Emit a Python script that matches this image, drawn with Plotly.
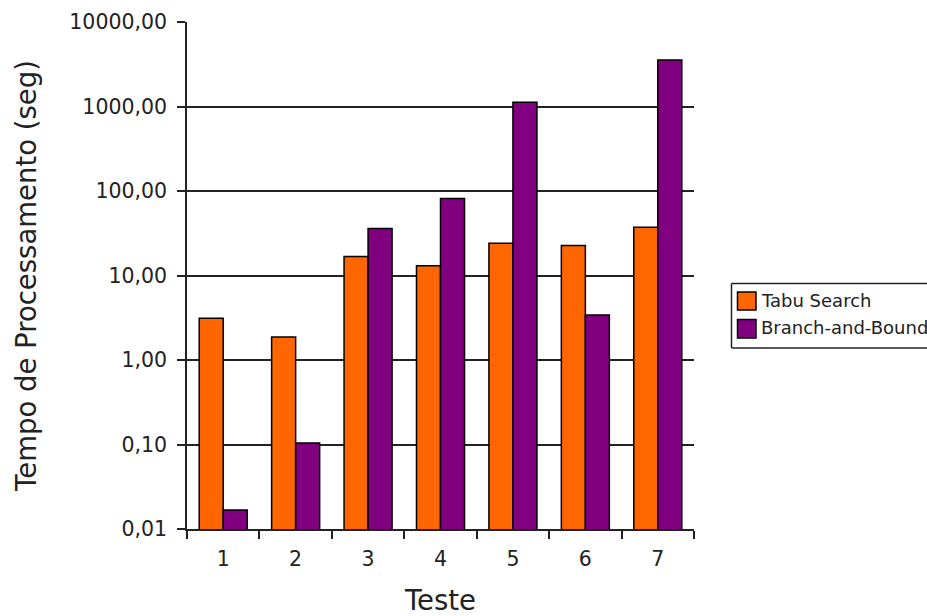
import plotly.graph_objects as go

categories = ["1", "2", "3", "4", "5", "6", "7"]
tabu_search = [3.12, 1.87, 16.8, 13.0, 24.1, 22.7, 37.3]
branch_and_bound = [0.0168, 0.104, 36.0, 81.7, 1120.0, 3.41, 3560.0]
y_tick_vals = [0.01, 0.1, 1, 10, 100, 1000, 10000]
y_tick_text = ["0,01", "0,10", "1,00", "10,00", "100,00", "1000,00", "10000,00"]
series_names = ["Tabu Search", "Branch-and-Bound"]

ORANGE = "#FF6600"
PURPLE = "#800080"
INK = "#222222"
FONT = "DejaVu Sans"

# plot area in pixels
PX0, PX1, PY0, PY1 = 187, 694, 22, 529


def px(sx):
    return (sx - PX0) / (PX1 - PX0)


def py(sy):
    return (PY1 - sy) / (PY1 - PY0)


fig = go.Figure()
fig.add_trace(go.Bar(x=categories, y=tabu_search, name=series_names[0],
                     marker=dict(color=ORANGE, line=dict(color="black", width=1.5)),
                     showlegend=False))
fig.add_trace(go.Bar(x=categories, y=branch_and_bound, name=series_names[1],
                     marker=dict(color=PURPLE, line=dict(color="black", width=1.5)),
                     showlegend=False))

# hand-drawn legend (the reference's legend runs off the right edge)
LX0, LX1, LY0, LY1 = 731.5, 1000, 283.5, 348
border = dict(color=INK, width=1.5)
shapes = [
    dict(type="line", xref="paper", yref="paper", x0=px(LX0), x1=px(LX1), y0=py(LY0), y1=py(LY0), line=border),
    dict(type="line", xref="paper", yref="paper", x0=px(LX0), x1=px(LX1), y0=py(LY1), y1=py(LY1), line=border),
    dict(type="line", xref="paper", yref="paper", x0=px(LX0), x1=px(LX0), y0=py(LY0), y1=py(LY1), line=border),
]
annotations = []
for (name, col, top, bot, ty) in [(series_names[0], ORANGE, 292, 310, 300),
                                   (series_names[1], PURPLE, 319.5, 338, 327.5)]:
    shapes.append(dict(type="rect", xref="paper", yref="paper",
                       x0=px(737.5), x1=px(756), y0=py(bot), y1=py(top),
                       line=dict(color="black", width=1.5), fillcolor=col))
    annotations.append(dict(text=name, xref="paper", yref="paper",
                            x=px(759), y=py(ty), xanchor="left", yanchor="middle",
                            showarrow=False, font=dict(size=18, family=FONT, color=INK)))

fig.update_layout(
    width=927, height=616,
    margin=dict(l=187, r=233, t=22, b=87, autoexpand=False),
    paper_bgcolor="white", plot_bgcolor="white",
    font=dict(family=FONT, color=INK),
    barmode="group", bargap=0.337, bargroupgap=0,
    showlegend=False,
    shapes=shapes, annotations=annotations,
)
fig.update_xaxes(
    type="category", tickson="boundaries", ticks="outside", ticklen=8,
    tickwidth=1.5, tickcolor=INK,
    showline=True, linecolor=INK, linewidth=1.5, showgrid=False,
    tickfont=dict(size=20.5, family=FONT), ticklabelstandoff=11,
    title=dict(text="Teste", font=dict(size=27.5, family=FONT), standoff=20),
)
fig.update_yaxes(
    type="log", range=[-2, 4], tickvals=y_tick_vals, ticktext=y_tick_text,
    ticks="outside", ticklen=8, tickwidth=1.5, tickcolor=INK,
    showline=True, linecolor=INK, linewidth=1.5,
    showgrid=True, gridcolor=INK, gridwidth=1.5, zeroline=False,
    tickfont=dict(size=20.5, family=FONT), ticklabelstandoff=6,
    title=dict(text="Tempo de Processamento (seg)", font=dict(size=27.5, family=FONT), standoff=25),
)

fig.write_html("out.html", config={"displayModeBar": False},
               post_script="document.body.style.margin='0';document.body.style.overflow='hidden';")
